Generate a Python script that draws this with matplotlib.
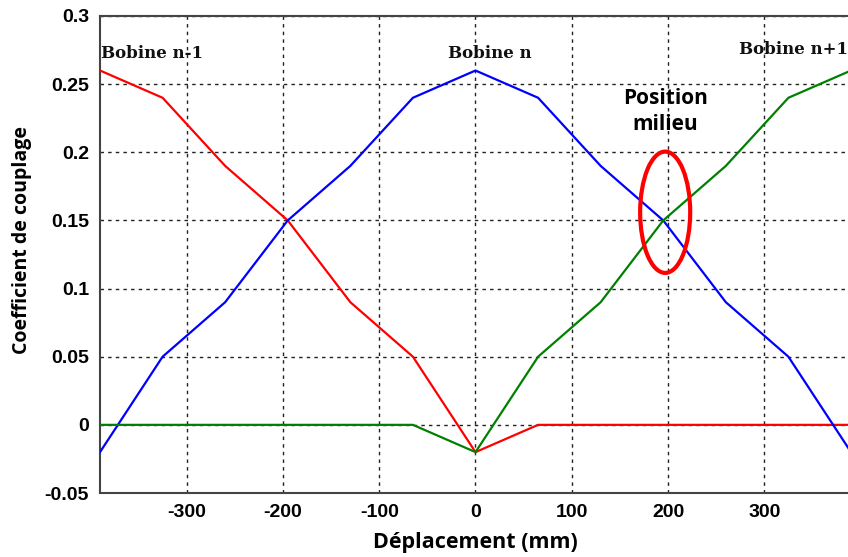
import matplotlib
matplotlib.use("Agg")
import matplotlib.pyplot as plt
from matplotlib.patches import Ellipse

x = [-390, -325, -260, -195, -130, -65, 0, 65, 130, 195, 260, 325, 390]
bobine_n = [-0.02, 0.05, 0.09, 0.15, 0.19, 0.24, 0.26, 0.24, 0.19, 0.15, 0.09, 0.05, -0.02]
bobine_nm1 = [0.26, 0.24, 0.19, 0.15, 0.09, 0.05, -0.02, 0, 0, 0, 0, 0, 0]
bobine_np1 = [0, 0, 0, 0, 0, 0, -0.02, 0.05, 0.09, 0.15, 0.19, 0.24, 0.26]
xticks = [-300, -200, -100, 0, 100, 200, 300]
xtick_labels = ["-300", "-200", "-100", "0", "100", "200", "300"]
yticks = [-0.05, 0, 0.05, 0.1, 0.15, 0.2, 0.25, 0.3]
ytick_labels = ["-0.05", "0", "0.05", "0.1", "0.15", "0.2", "0.25", "0.3"]

W, H = 848, 557
fig = plt.figure(figsize=(W / 100, H / 100), dpi=100)
ax = fig.add_axes([100 / W, 1 - 493 / H, 751 / W, 477 / H])

ax.plot(x, bobine_nm1, color="#ff0000", lw=1.6, zorder=3)
ax.plot(x, bobine_n, color="#0000ff", lw=1.6, zorder=3)
ax.plot(x, bobine_np1, color="#008000", lw=1.6, zorder=3)

ax.set_xlim(-390, 390)
ax.set_ylim(-0.05, 0.3)
ax.set_xticks(xticks)
ax.set_xticklabels(xtick_labels)
ax.set_yticks(yticks)
ax.set_yticklabels(ytick_labels)
ax.grid(True, color="#222222", linestyle=(0, (2.5, 3)), linewidth=1.0)
ax.tick_params(length=0, pad=8)
for lab in ax.get_xticklabels() + ax.get_yticklabels():
    lab.set_fontfamily("Liberation Sans")
    lab.set_fontweight("bold")
    lab.set_fontsize(14)
for s in ax.spines.values():
    s.set_color("#444444")
    s.set_linewidth(1.5)
ax.spines["right"].set_visible(False)

ax.set_xlabel("Déplacement (mm)", fontfamily="Open Sans", fontweight="bold", fontsize=15.5, labelpad=8)
ax.set_ylabel("Coefficient de couplage", fontfamily="Open Sans", fontweight="bold", fontsize=14)
ax.yaxis.set_label_coords(-0.091, 0.53)

serif = dict(fontfamily="DejaVu Serif", fontweight="bold", fontsize=12, color="#111111")
ax.text(-389, 0.2725, "Bobine n-1", ha="left", va="center", **serif)
ax.text(-29, 0.2725, "Bobine n", ha="left", va="center", **serif)
ax.text(274, 0.2755, "Bobine n+1", ha="left", va="center", clip_on=False, **serif)

ax.text(197, 0.2300, "Position\nmilieu", ha="center", va="center", fontfamily="Open Sans",
        fontweight="bold", fontsize=15, linespacing=1.35)

ax.add_patch(Ellipse((197, 0.156), 52, 0.089, fill=False, edgecolor="#ff0000", lw=3, zorder=4))

fig.savefig("out.png", dpi=100)
